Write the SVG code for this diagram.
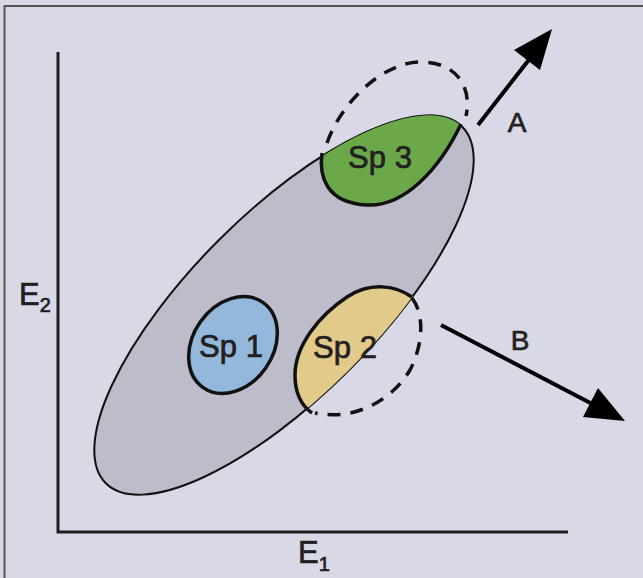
<svg xmlns="http://www.w3.org/2000/svg" width="643" height="578" viewBox="0 0 643 578">
<defs>
<style>
.t{font-family:"Liberation Sans",Arial,sans-serif;fill:#231f20;stroke:#231f20;stroke-width:0.7}
.lbl{font-size:31px}
.ax{stroke:#231f20;stroke-width:3;fill:none}
.blk{stroke:#111;stroke-width:3.5;fill:none}
.dash{stroke:#111;stroke-width:3.5;fill:none;stroke-dasharray:13 10}
.arr{stroke:#000;stroke-width:4;fill:none}
</style>
<clipPath id="bigclip"><ellipse cx="284" cy="305" rx="252" ry="92" transform="rotate(-45 284 305)"/></clipPath>
</defs>
<rect x="0" y="0" width="643" height="578" fill="#d9d8e6"/>
<path d="M4.5,578 V6 H643" fill="none" stroke="#555" stroke-width="2"/>
<g id="axes">
<path class="ax" d="M58,52 V532 H568"/>
<text class="t" x="19" y="305" font-size="31">E<tspan font-size="20" dy="7">2</tspan></text>
<text class="t" x="298" y="563" font-size="31">E<tspan font-size="20" dy="8">1</tspan></text>
</g>
<g id="niche">
<ellipse cx="284" cy="305" rx="252" ry="92" transform="rotate(-45 284 305)" fill="#bdbccb" stroke="#111" stroke-width="2"/>
</g>
<g id="sp1">
<ellipse cx="233" cy="345" rx="52" ry="40" transform="rotate(-55 233 345)" fill="#93b8dc" stroke="#111" stroke-width="3.5"/>
<text class="t lbl" x="231" y="357" text-anchor="middle">Sp 1</text>
</g>
<g id="sp3">
<path clip-path="url(#bigclip)" fill="#6aa84a" d="M322,150 C320,172 322,200 367,205 C400,208 440,170 462,122 L470,90 L310,110 Z"/>
<path class="blk" d="M322,153 C319,175 325,203 367,205 C405,207 440,168 461,124"/>
<path class="dash" d="M327,143 C342,100 385,62 420,62 C458,62 472,88 466,116"/>
<text class="t lbl" x="380" y="168" text-anchor="middle">Sp 3</text>
</g>
<g id="sp2">
<path clip-path="url(#bigclip)" fill="#e1ca8a" d="M412,296 C395,285 370,282 347,297 C320,315 295,345 295,375 C295,395 302,408 312,415 L440,420 L440,290 Z"/>
<path class="blk" d="M412,297 C395,285 370,282 347,297 C320,315 295,345 295,375 C295,395 302,406 312,413"/>
<path class="dash" d="M412,298 C425,315 423,345 410,370 C395,395 370,410 345,414 C335,415 325,415 315,413"/>
<text class="t lbl" x="345" y="358" text-anchor="middle">Sp 2</text>
</g>
<g id="connectors">
<g id="arrowA">
<path class="arr" d="M478,125 L535,52"/>
<polygon points="552,29 540,70 514,50" fill="#000"/>
<text class="t" x="517" y="132" font-size="28" text-anchor="middle">A</text>
</g>
<g id="arrowB">
<path class="arr" d="M441,325 L600,408"/>
<polygon points="625,421 583,417 598,388" fill="#000"/>
<text class="t" x="520" y="350" font-size="28" text-anchor="middle">B</text>
</g>
</g>
</svg>
